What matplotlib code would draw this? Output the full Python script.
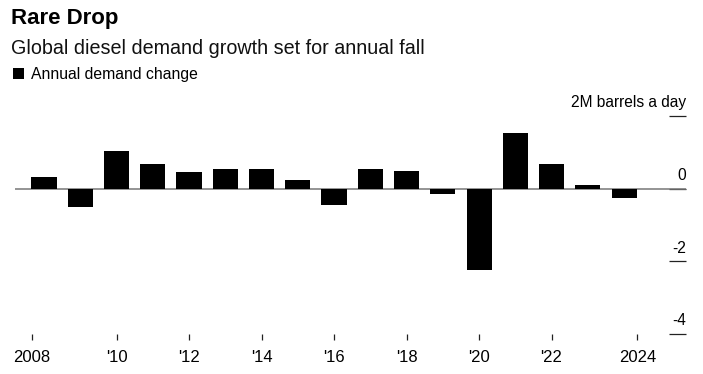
import matplotlib
matplotlib.use("Agg")
import matplotlib.pyplot as plt
from matplotlib.transforms import blended_transform_factory

years = list(range(2008, 2025))
demand_change = [0.32, -0.50, 1.03, 0.69, 0.46, 0.54, 0.55, 0.24, -0.46,
                 0.55, 0.49, -0.15, -2.24, 1.53, 0.68, 0.11, -0.26]
xtick_years = [2008, 2010, 2012, 2014, 2016, 2018, 2020, 2022, 2024]
xtick_labels = ["2008", "'10", "'12", "'14", "'16", "'18", "'20", "'22", "2024"]
ytick_values = [2, 0, -2, -4]
ytick_labels = ["2M barrels a day", "0", "-2", "-4"]

plt.rcParams['font.family'] = ['Liberation Sans', 'DejaVu Sans']

W, H = 703, 374
fig = plt.figure(figsize=(W / 100, H / 100), dpi=100)
ax = fig.add_axes([15 / W, 1 - 334 / H, (686 - 15) / W, (334 - 116) / H])

bars = ax.bar(years, demand_change, width=0.69, color="black", zorder=3)
ax.axhline(0, color="#777777", lw=1.1, zorder=2)

ax.set_xlim(2007.2, 2025.71)
ax.set_ylim(-4, 2)

for s in ax.spines.values():
    s.set_visible(False)

# x ticks (edge labels nudged outward like the original)
xpos = list(xtick_years)
xpos[0] = xpos[0] - 0.34
xpos[-1] = xpos[-1] + 0.37
ax.set_xticks(xpos)
ax.set_xticklabels(xtick_labels, fontsize=12)
ax.tick_params(axis="x", direction="out", length=4.5, width=0.9, color="#222222", pad=7)

# y ticks on the right: dashes inward, labels above
ax.yaxis.tick_right()
ax.set_yticks(ytick_values)
ax.set_yticklabels([])
ax.tick_params(axis="y", direction="in", length=12.3, width=0.9, color="#222222", right=True, left=False)
tr = blended_transform_factory(ax.transAxes, ax.transData)
for v, lab in zip(ytick_values, ytick_labels):
    ax.annotate(lab, xy=(1, v), xycoords=tr, xytext=(0, 4), textcoords="offset points",
                ha="right", va="bottom", fontsize=11.2, color="black")

fig.text(11 / W, 1 - 8 / H, "Rare Drop", fontsize=16, fontweight="bold", va="top", ha="left")
fig.text(11 / W, 1 - 38.5 / H, "Global diesel demand growth set for annual fall", fontsize=14.2,
         va="top", ha="left", color="#111111")

fig.legend(handles=[bars], labels=["Annual demand change"], loc="upper left",
           bbox_to_anchor=(12.5 / W, 1 - 67 / H), frameon=False, fontsize=11.3,
           handlelength=0.76, handleheight=0.76, handletextpad=0.45, borderpad=0,
           borderaxespad=0)

fig.savefig("out.png", dpi=100)
